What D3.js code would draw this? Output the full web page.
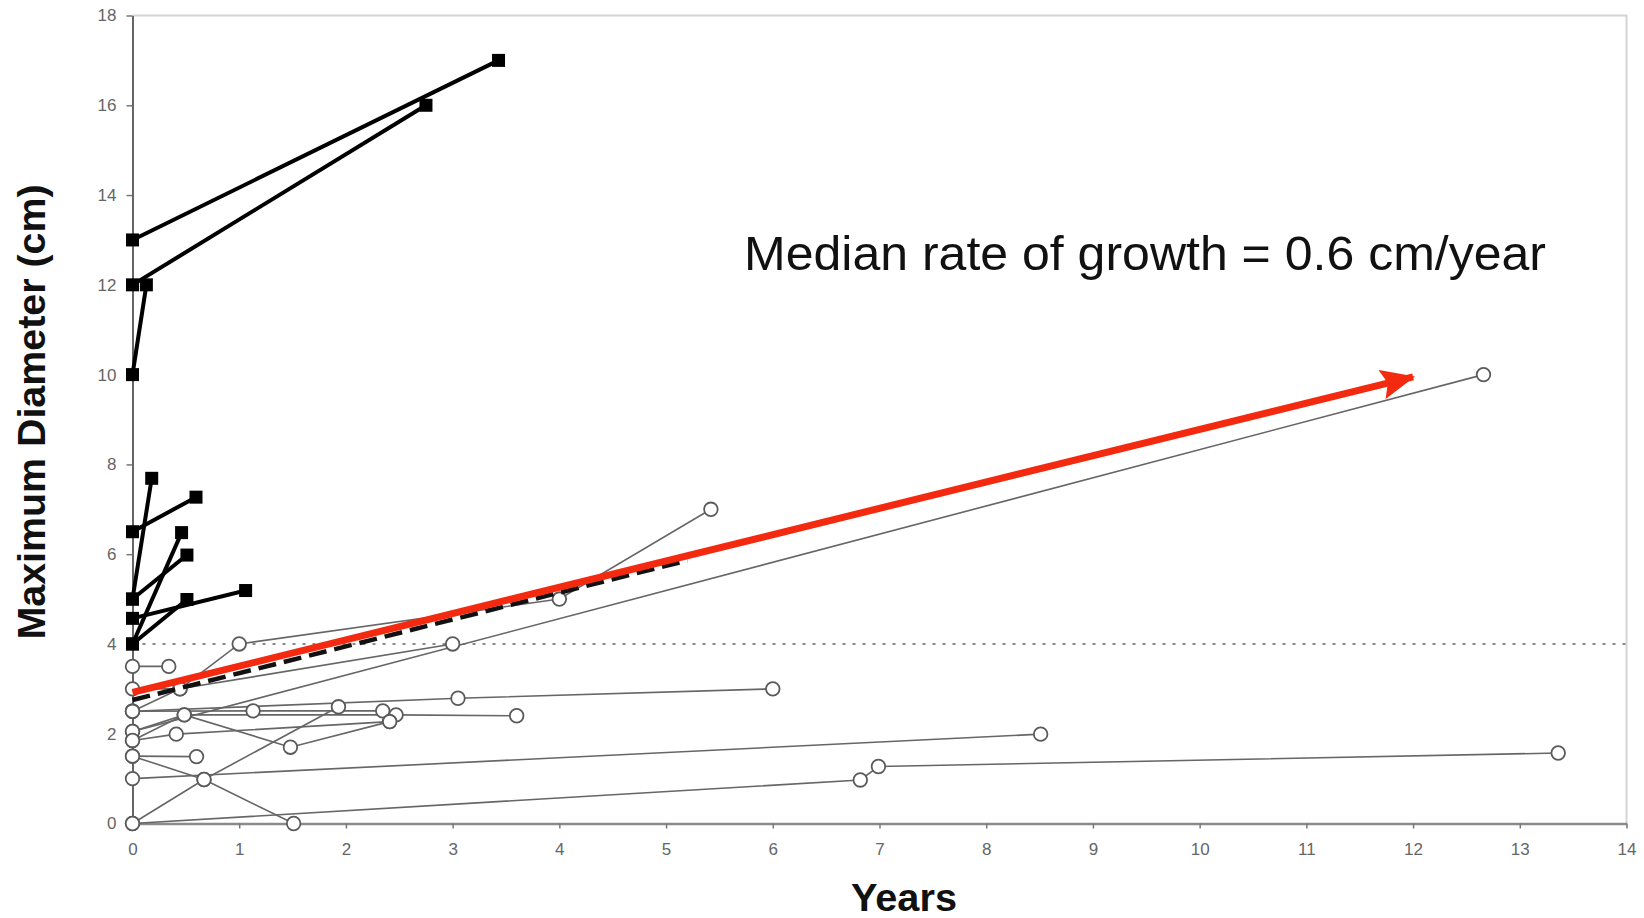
<!DOCTYPE html>
<html>
<head>
<meta charset="utf-8">
<script src="https://cdn.jsdelivr.net/npm/d3@7/dist/d3.min.js"></script>
<style>
  body { margin: 0; background: #fff; }
  svg { display: block; font-family: "Liberation Sans", Arial, sans-serif; }
</style>
</head>
<body>
<div id="chart"></div>
<script>
// ===========Data
var xTicks = [0, 1, 2, 3, 4, 5, 6, 7, 8, 9, 10, 11, 12, 13, 14];
var yTicks = [0, 2, 4, 6, 8, 10, 12, 14, 16, 18];

// lesions followed with filled squares (thick black lines)
var largeLesions = [
    [[0, 13], [3.43, 17]],
    [[0, 12], [2.75, 16]],
    [[0, 10], [0.13, 12]],
    [[0, 6.5], [0.595, 7.27]],
    [[0, 5], [0.18, 7.69]],
    [[0, 5], [0.51, 5.98]],
    [[0, 4], [0.46, 6.48]],
    [[0, 4.57], [1.06, 5.19]],
    [[0, 4], [0.51, 4.99]]
];

// lesions followed with open circles (thin grey lines)
var smallLesions = [
    [[0, 3.5], [0.34, 3.5]],
    [[0, 3.0], [0.445, 3.0], [1.0, 4.0], [4.0, 5.0], [5.42, 7.0]],
    [[0, 2.5], [0.445, 3.0], [3.0, 4.0]],
    [[0, 2.5], [1.13, 2.51], [2.345, 2.51]],
    [[0, 2.5], [3.05, 2.79], [6.0, 3.0]],
    [[0, 2.05], [12.66, 10.0]],
    [[0, 1.85], [0.485, 2.42], [2.47, 2.42], [3.6, 2.4]],
    [[0, 2.05], [0.485, 2.42], [1.48, 1.7], [2.41, 2.27]],
    [[0, 1.85], [0.41, 1.99], [2.41, 2.27]],
    [[0, 1.5], [0.6, 1.49]],
    [[0, 1.5], [0.67, 0.98], [1.51, 0]],
    [[0, 1.0], [8.51, 1.99]],
    [[0, 0], [0.67, 0.98], [1.93, 2.6]],
    [[0, 0], [6.82, 0.97], [6.99, 1.27], [13.36, 1.57]]
];

var medianTrend = [[0, 2.75], [5.2, 5.86]];
var medianArrow = [[0, 2.92], [12.0, 9.95]];
var thresholdLine = [[0, 4], [14, 4]];

var annotation = "Median rate of growth = 0.6 cm/year";

// ===========Set sizes
var svgWidth = 1644;
var svgHeight = 918;

var svg = d3.select("#chart").append("svg")
    .attr("width", svgWidth)
    .attr("height", svgHeight);

var xScale = d3.scaleLinear().domain([0, 14]).range([132.5, 1626.5]);
var yScale = d3.scaleLinear().domain([0, 18]).range([823.5, 15.5]);

var line = d3.line()
    .x(d => xScale(d[0]))
    .y(d => yScale(d[1]));

// ===========Plot area border (top and right)
svg.append("path")
    .attr("d", `M${xScale(0)},${yScale(18)}H${xScale(14)}V${yScale(0)}`)
    .attr("fill", "none")
    .attr("stroke", "#d4d4d4")
    .attr("stroke-width", 2);

// ===========Axes
var bottomAxis = d3.axisBottom(xScale).tickValues(xTicks).tickSize(5).tickPadding(14).tickSizeOuter(0);
var leftAxis = d3.axisLeft(yScale).tickValues(yTicks).tickSize(6).tickPadding(10).tickSizeOuter(0);

var xAxis = svg.append("g")
    .attr("transform", `translate(0, ${yScale(0)})`)
    .call(bottomAxis);

var yAxis = svg.append("g")
    .attr("transform", `translate(${xScale(0)}, 0)`)
    .call(leftAxis);

xAxis.select(".domain").attr("stroke", "#8a8a8a").attr("stroke-width", 2.5);
yAxis.select(".domain").attr("stroke", "#666").attr("stroke-width", 2);
svg.selectAll(".tick line").attr("stroke", "#777").attr("stroke-width", 1.5);
svg.selectAll(".tick text")
    .attr("fill", "#666")
    .attr("font-size", "17px")
    .attr("font-family", "Liberation Sans, Arial, sans-serif");

// ===========Dotted 4 cm line
svg.append("path")
    .datum(thresholdLine)
    .attr("d", line)
    .attr("fill", "none")
    .attr("stroke", "#888")
    .attr("stroke-width", 2)
    .attr("stroke-dasharray", "3 7");

// ===========Open circle series
var smallGroup = svg.append("g");

smallGroup.selectAll("path")
    .data(smallLesions)
    .enter()
    .append("path")
    .attr("d", line)
    .attr("fill", "none")
    .attr("stroke", "#666")
    .attr("stroke-width", 1.6);

smallGroup.selectAll("circle")
    .data(smallLesions.flat())
    .enter()
    .append("circle")
    .attr("cx", d => xScale(d[0]))
    .attr("cy", d => yScale(d[1]))
    .attr("r", 6.8)
    .attr("fill", "#fff")
    .attr("stroke", "#5a5a5a")
    .attr("stroke-width", 1.8);

// ===========Median trend (dashed) and arrow (red)
svg.append("path")
    .datum(medianTrend)
    .attr("d", line)
    .attr("fill", "none")
    .attr("stroke", "#111")
    .attr("stroke-width", 4.5)
    .attr("stroke-dasharray", "18 8");

svg.append("defs").append("marker")
    .attr("id", "arrowHead")
    .attr("markerUnits", "userSpaceOnUse")
    .attr("viewBox", "0 0 34 30")
    .attr("refX", 32)
    .attr("refY", 15)
    .attr("markerWidth", 34)
    .attr("markerHeight", 30)
    .attr("orient", "auto")
    .append("path")
    .attr("d", "M0,0 L34,15 L0,30 L6,15 Z")
    .attr("fill", "#f42a10");

svg.append("path")
    .datum(medianArrow)
    .attr("d", line)
    .attr("fill", "none")
    .attr("stroke", "#f42a10")
    .attr("stroke-width", 7)
    .attr("marker-end", "url(#arrowHead)");

// ===========Filled square series
var largeGroup = svg.append("g");

largeGroup.selectAll("path")
    .data(largeLesions)
    .enter()
    .append("path")
    .attr("d", line)
    .attr("fill", "none")
    .attr("stroke", "#000")
    .attr("stroke-width", 4);

largeGroup.selectAll("rect")
    .data(largeLesions.flat())
    .enter()
    .append("rect")
    .attr("x", d => xScale(d[0]) - 6.5)
    .attr("y", d => yScale(d[1]) - 6.5)
    .attr("width", 13)
    .attr("height", 13)
    .attr("fill", "#000");

// ===========Labels
svg.append("text")
    .attr("x", 744)
    .attr("y", 270)
    .attr("font-size", "49px")
    .attr("fill", "#111")
    .attr("textLength", 802)
    .attr("lengthAdjust", "spacingAndGlyphs")
    .text(annotation);

svg.append("text")
    .attr("x", 904)
    .attr("y", 911)
    .attr("text-anchor", "middle")
    .attr("font-size", "38px")
    .attr("font-weight", "bold")
    .attr("fill", "#111")
    .attr("textLength", 106)
    .attr("lengthAdjust", "spacingAndGlyphs")
    .text("Years");

svg.append("text")
    .attr("transform", "translate(45, 412) rotate(-90)")
    .attr("text-anchor", "middle")
    .attr("font-size", "39px")
    .attr("font-weight", "bold")
    .attr("fill", "#111")
    .attr("textLength", 455)
    .attr("lengthAdjust", "spacingAndGlyphs")
    .text("Maximum Diameter (cm)");
</script>
</body>
</html>
